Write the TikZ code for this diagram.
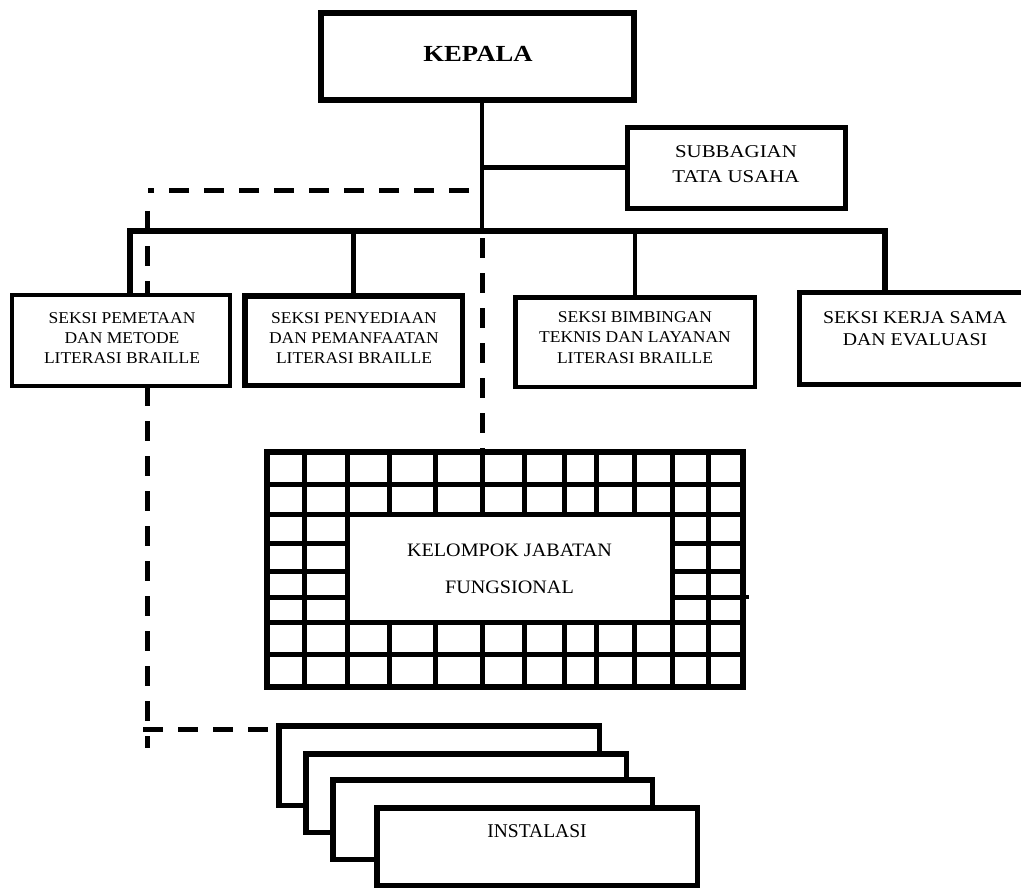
\documentclass[tikz,border=0pt]{standalone}
\usepackage{fontspec}
\setmainfont{Liberation Serif}
\newfontfamily\fwa[FakeStretch=1.16]{Liberation Serif}
\newfontfamily\fwb[FakeStretch=1.10]{Liberation Serif}
\newfontfamily\fwc[FakeStretch=1.06]{Liberation Serif}
\pgfdeclarelayer{bg}
\pgfsetlayers{bg,main}
\begin{document}
\begin{tikzpicture}[x=1pt,y=-1pt,
  box/.style={draw,fill=white,inner sep=0pt,line width=#1},
  box/.default=4.5pt,
  lbl/.style={anchor=north,inner sep=0pt,align=center},
  conn/.style={line width=#1},
  conn/.default=4.5pt,
  dsh/.style={line width=5pt,dash pattern=on 20pt off 15pt},
  gridl/.style={line width=5pt},
]
\useasboundingbox (0,0) rectangle (1021,888);

% ---- fixed points of the connectors
\coordinate (dt) at (469,190.5);
\coordinate (dc) at (147.5,190.5);
\coordinate (dv) at (147.5,211);
\coordinate (dvb) at (147.5,748);
\coordinate (dh) at (143,729.5);
\coordinate (d0) at (482,238);
\coordinate (bus) at (482,231);
\coordinate (bl) at (130,231);
\coordinate (br) at (885,231);
\coordinate (tick) at (749,597);

% ---- boxes
\node[box=6pt,minimum width=313pt,minimum height=87pt] (kepala) at (477.5,56.5) {};
\node[box=5pt,minimum width=218pt,minimum height=81pt] (sub) at (736.5,168) {};

\node[box=4pt,minimum width=218pt,minimum height=91pt] (s1) at (121,340.5) {};
\node[box=5.5pt,minimum width=217.5pt,minimum height=89.5pt] (s2) at (353.5,340.5) {};
\node[box=4.5pt,minimum width=239.5pt,minimum height=89.5pt] (s3) at (635,342) {};
\node[box=5pt,minimum width=240pt,minimum height=92pt] (s4) at (919.5,338.5) {};

% grid
\node[draw,line width=5.5pt,inner sep=0pt,minimum width=476pt,minimum height=235pt] (grid) at (505,569.5) {};
\foreach \gx in {304.5,347,389.5,435,482,524,564,596,634,672,708}
  \draw[gridl] (\gx,452) -- (\gx,687);
\foreach \gy in {484,514,543,571,597,622,654}
  \draw[gridl] (267,\gy) -- (743,\gy);
\node[box=5pt,minimum width=325pt,minimum height=108pt] (kjf) at (509.5,568) {};

% instalasi stack
\node[box=5.5pt,minimum width=320.5pt,minimum height=79.5pt] (instA) at (439,765.5) {};
\node[box=5.5pt,minimum width=320.5pt,minimum height=78.5pt] (instB) at (466,793) {};
\node[box=5.5pt,minimum width=319.5pt,minimum height=79.5pt] (instC) at (492.5,819.5) {};
\node[box=5.5pt,minimum width=320.5pt,minimum height=77.5pt] (instD) at (537,846.5) {};

% ---- texts
\node[lbl,font=\fwa\bfseries\fontsize{23}{28}\selectfont] (tkepala) at (478,46.5) {KEPALA};
\node[lbl,font=\fwa\fontsize{18}{25}\selectfont] (tsub) at (736,145.2) {SUBBAGIAN\\TATA USAHA};
\node[lbl,font=\fwc\fontsize{16.5}{20.3}\selectfont] (ts1) at (122,312.2) {SEKSI PEMETAAN\\DAN METODE\\LITERASI BRAILLE};
\node[lbl,font=\fwc\fontsize{16.5}{20.3}\selectfont] (ts2) at (354,312.2) {SEKSI PENYEDIAAN\\DAN PEMANFAATAN\\LITERASI BRAILLE};
\node[lbl,font=\fwc\fontsize{16.5}{20.5}\selectfont] (ts3) at (635,311.2) {SEKSI BIMBINGAN\\TEKNIS DAN LAYANAN\\LITERASI BRAILLE};
\node[lbl,font=\fwb\fontsize{18}{22}\selectfont] (ts4) at (915,311.2) {SEKSI KERJA SAMA\\DAN EVALUASI};
\node[lbl,font=\fwc\fontsize{19}{37}\selectfont] (tkjf) at (509.5,543.5) {KELOMPOK JABATAN\\FUNGSIONAL};
\node[lbl,font=\fontsize{19.5}{24}\selectfont] (tinst) at (537,824.2) {INSTALASI};

% ---- connectors (behind the boxes)
\begin{pgfonlayer}{bg}
\draw[dsh] (dt) -- (dc);
\draw[dsh] (dv) -- (dvb);
\draw[dsh] (dh) -- (dh -| instA.west);
\draw[dsh] (d0) -- (d0 |- grid.north);
\draw[conn=4pt] (kepala.south -| bus) -- (bus);
\draw[conn=5pt] (bus |- sub.west) -- (sub.west);
\draw[conn=5.5pt] (bl |- s1.north) -- (bl) -- (br) -- (br |- s4.north);
\draw[conn] (s2.north |- bus) -- (s2.north);
\draw[conn] (s3.north |- bus) -- (s3.north);
\draw[conn=4pt] (tick -| grid.east) -- (tick);
\end{pgfonlayer}
\end{tikzpicture}
\end{document}
